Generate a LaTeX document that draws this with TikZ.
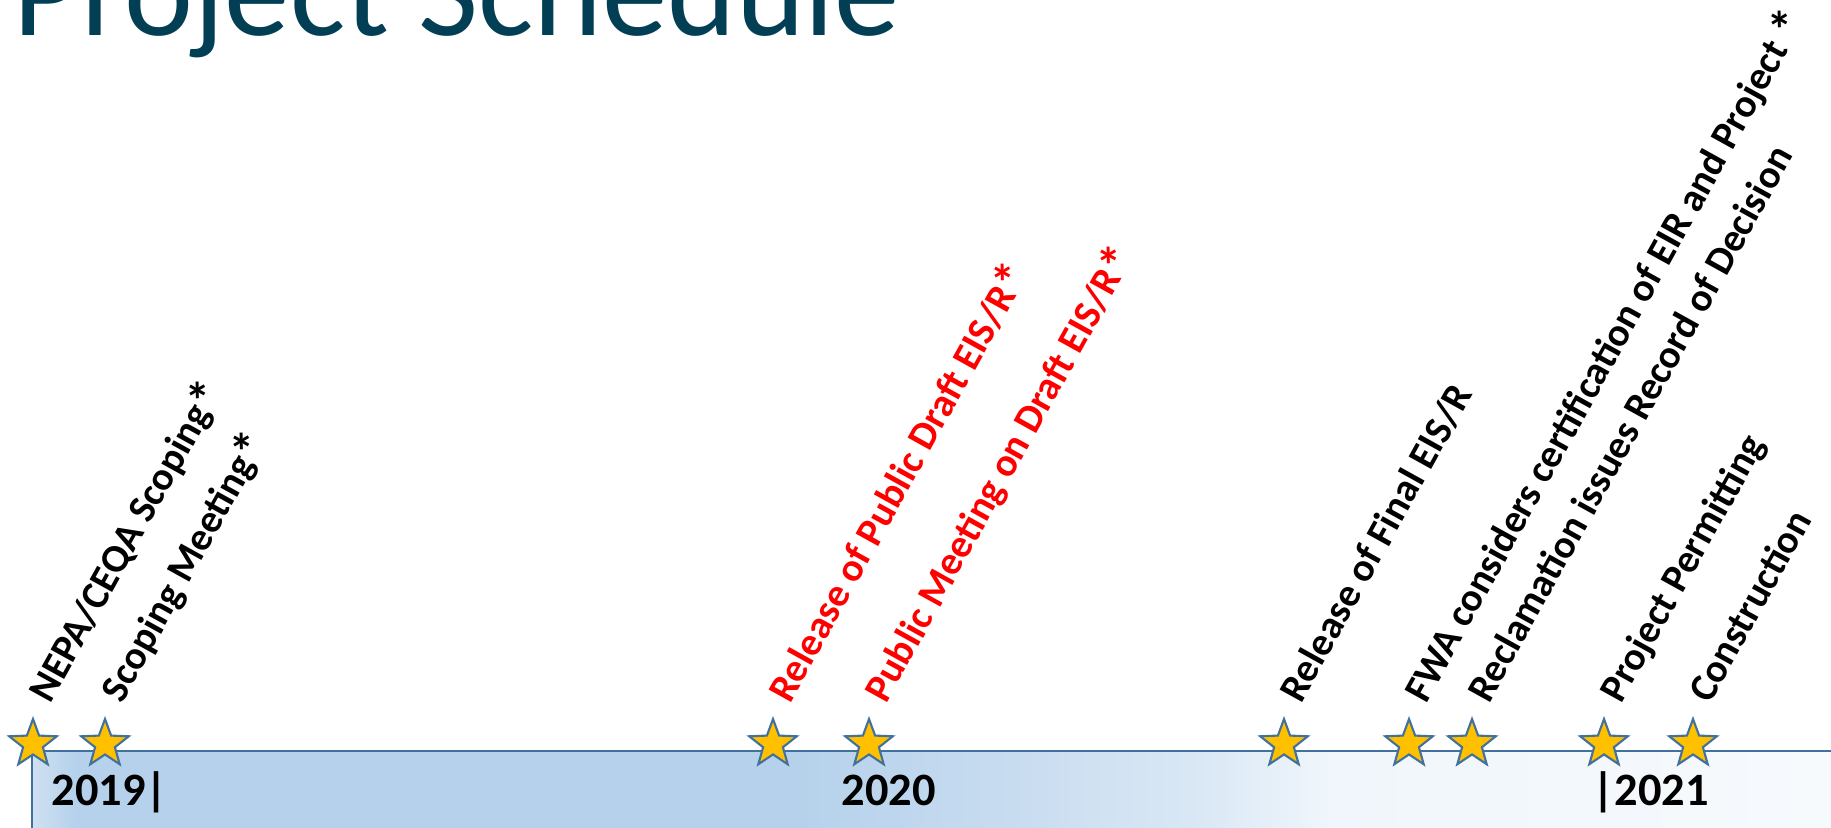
\documentclass[tikz,border=0pt]{standalone}
\usepackage{fontspec}
\setmainfont{Carlito}
\usetikzlibrary{shapes.geometric}
\definecolor{titleteal}{HTML}{033F54}
\definecolor{starfill}{HTML}{FFC000}
\definecolor{starline}{HTML}{41719C}
\definecolor{barA}{HTML}{CFE1F2}
\definecolor{barB}{HTML}{B5D1EB}
\definecolor{barC}{HTML}{C8DCF0}
\definecolor{barD}{HTML}{DAE8F5}
\definecolor{barE}{HTML}{F0F6FB}
\definecolor{barF}{HTML}{F7FAFD}
\pgfdeclarehorizontalshading{barshade}{100bp}{color(0bp)=(barA); color(25bp)=(barA);
  color(26.2bp)=(barB); color(45.7bp)=(barB); color(51.8bp)=(barC); color(57bp)=(barD);
  color(60.5bp)=(barE); color(75bp)=(barF); color(100bp)=(barF)}
\newcommand\bigast{\raisebox{-0.14em}{\scalebox{1.3}{*}}}
\begin{document}
\begin{tikzpicture}[
    evt/.style={star,star points=5,star point ratio=2.4,minimum size=0.5cm,inner sep=0pt,
      fill=starfill,draw=starline,line width=0.6pt},
    lbl/.style={xshift=0.17cm,rotate=61,anchor=base west,inner sep=0pt,
      font=\fontsize{11.3}{13}\selectfont\bfseries},
    yr/.style={anchor=base west,inner sep=0pt,font=\fontsize{13.2}{15}\selectfont\bfseries}]
\useasboundingbox (0,0) rectangle (18.31,8.27);
\clip (0,0) rectangle (18.31,8.27);
% title, cut by the top edge
\node[anchor=base west,inner sep=0pt,text=titleteal,font=\fontsize{37.2}{40}\selectfont] (title) at (0.13,7.92) {Project Schedule};
% time bar
\shade[shading=barshade,draw=starline,line width=0.6pt] (0.32,-0.5) rectangle (18.6,0.76);
\node[yr] (y2019) at (0.51,0.22) {2019|};
\node[yr] (y2020) at (8.41,0.22) {2020};
\node[yr] (y2021) at (15.92,0.22) {|2021};
% milestones
\foreach \n/\x in {s1/0.33,s2/1.05,s3/7.73,s4/8.69,s5/12.84,s6/14.09,s7/14.72,s8/16.04,s9/16.93}
  \node[evt] (\n) at (\x,0.83) {};
\coordinate (base) at (0,1.22);
\node[lbl] (l1) at (s1 |- base) {NEPA/CEQA Scoping\bigast};
\node[lbl] (l2) at (s2 |- base) {Scoping Meeting\bigast};
\node[lbl,text=red] (l3) at (s3 |- base) {Release of Public Draft EIS/R\bigast};
\node[lbl,text=red] (l4) at (s4 |- base) {Public Meeting on Draft EIS/R\bigast};
\node[lbl] (l5) at (s5 |- base) {Release of Final EIS/R};
\node[lbl] (l6) at (s6 |- base) {FWA considers certification of EIR and Project \bigast};
\node[lbl] (l7) at (s7 |- base) {Reclamation issues Record of Decision};
\node[lbl] (l8) at (s8 |- base) {Project Permitting};
\node[lbl] (l9) at (s9 |- base) {Construction};
\end{tikzpicture}
\end{document}
